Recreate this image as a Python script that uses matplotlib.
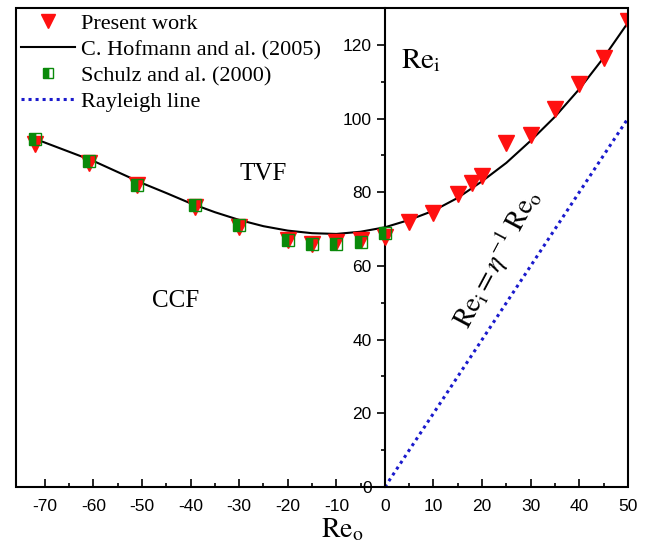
import numpy as np
import matplotlib
matplotlib.use('Agg')
import matplotlib.pyplot as plt
from matplotlib.patches import Rectangle
from matplotlib.ticker import MultipleLocator

plt.rcParams['font.family'] = ['Liberation Sans', 'DejaVu Sans']
plt.rcParams['mathtext.fontset'] = 'stix'
plt.rcParams['axes.unicode_minus'] = False

# Present work (red triangles)
present_reo = [-72, -61, -51, -39, -30, -20, -15, -10, -5, 0, 5, 10, 15, 18, 20, 25, 30, 35, 40, 45, 50]
present_rei = [93, 88, 82, 76, 70.5, 67, 66, 66.5, 67, 68, 72, 74.5, 79.5, 82.5, 84.5, 93.5, 95.5, 102.5, 109.5, 116.5, 126.5]

# Schulz and al. (2000)
schulz_reo = [-72, -61, -51, -39, -30, -20, -15, -10, -5, 0]
schulz_rei = [94.5, 88.5, 82, 76.5, 71, 67, 66, 66, 66.5, 69]

# C. Hofmann and al. (2005) curve
hof_reo = [-73, -70, -65, -60, -55, -50, -45, -40, -35, -30, -25, -20, -15, -10, -5,
           0, 5, 10, 15, 20, 25, 30, 35, 40, 45, 50]
hof_rei = [95, 93.5, 91, 88.5, 85.5, 82.5, 79.8, 77, 74.6, 72.5, 70.8, 69.6, 68.9, 68.7, 69.3,
           70.5, 72.5, 75, 78.5, 83, 88, 94, 100.5, 108, 116.5, 126]

# Rayleigh line
ray_reo = [0, 50]
ray_rei = [0, 100]

fig = plt.figure(figsize=(6.56, 5.42), dpi=100)
ax = fig.add_axes([0.024, 0.1015, 0.933, 0.8835])

ax.plot(hof_reo, hof_rei, color='black', lw=1.5, label='C. Hofmann and al. (2005)', zorder=2)
ax.plot(ray_reo, ray_rei, color='#1a1acc', lw=2.2, ls=(0, (1, 1.3)), label='Rayleigh line', zorder=2)
ax.plot(present_reo, present_rei, ls='none', marker='v', ms=12, color='#ff1010',
        label='Present work', zorder=3)
ax.plot(schulz_reo, schulz_rei, ls='none', marker='s', ms=9, fillstyle='left',
        markerfacecolor='#0a8a0a', markerfacecoloralt='none', markeredgecolor='#0a8a0a',
        markeredgewidth=1, label='Schulz and al. (2000)', zorder=4)

ax.set_xlim(-76, 50)
ax.set_ylim(0, 130)

for s in ['top', 'right', 'bottom']:
    ax.spines[s].set_visible(False)
ax.spines['left'].set_position(('data', 0))
ax.spines['left'].set_linewidth(1.5)
ax.add_patch(Rectangle((0, 0), 1, 1, transform=ax.transAxes, fill=False,
                       lw=1.5, edgecolor='black', clip_on=False, zorder=5))

ax.xaxis.set_major_locator(MultipleLocator(10))
ax.set_xticks(np.arange(-65, 50, 10), minor=True)
ax.yaxis.set_major_locator(MultipleLocator(20))
ax.yaxis.set_minor_locator(MultipleLocator(10))
ax.tick_params(axis='x', which='both', direction='in', labelsize=12.5, pad=9)
ax.tick_params(axis='x', which='major', length=6, width=1.2)
ax.tick_params(axis='x', which='minor', length=3, width=1.2)
ax.tick_params(axis='y', which='both', direction='out', labelsize=12.5)
ax.tick_params(axis='y', which='major', length=6, width=1.2)
ax.tick_params(axis='y', which='minor', length=3, width=1.2)

ax.set_xlabel(r'$\mathrm{Re}_\mathrm{o}$', fontsize=20)
ax.xaxis.set_label_coords(0.533, -0.062)

ax.text(-25, 85, 'TVF', family='Liberation Serif', fontsize=18, ha='center', va='center')
ax.text(-43, 50.5, 'CCF', family='Liberation Serif', fontsize=18, ha='center', va='center')
ax.text(7.5, 116, r'$\mathrm{Re}_\mathrm{i}$', fontsize=21, ha='center', va='center')
ax.text(23, 62, r'$\mathrm{Re}_\mathrm{i} = \eta^{-1}\ \mathrm{Re}_\mathrm{o}$', fontsize=20,
        rotation=62, ha='center', va='center')

handles, labels = ax.get_legend_handles_labels()
order = [2, 0, 3, 1]
leg = ax.legend([handles[i] for i in order], [labels[i] for i in order],
                loc='upper left', bbox_to_anchor=(0, 1), frameon=False,
                prop={'family': 'Liberation Serif', 'size': 16}, handlelength=2.4,
                handletextpad=0.3, labelspacing=0.24, borderaxespad=0, borderpad=0.25,
                markerscale=0.85)

fig.savefig('out.png', dpi=100)
